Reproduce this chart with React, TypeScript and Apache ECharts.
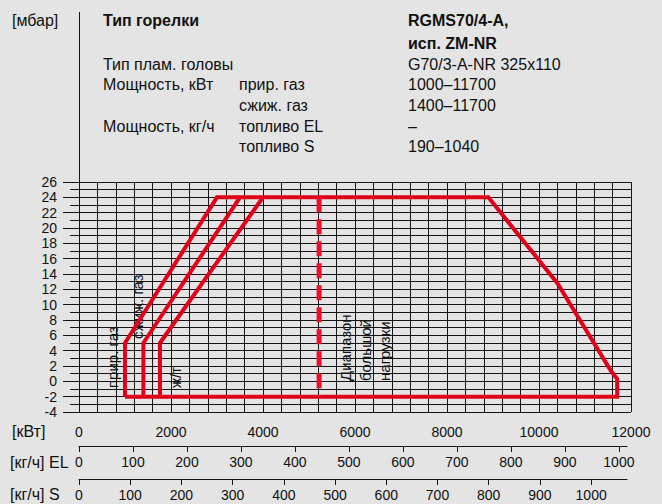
import React, { useEffect, useRef } from "react";
import * as echarts from "echarts";

// ---- data ----
const outerX = [1000, 1000, 3000, 8900, 10400, 11560, 11700, 11700, 1000];
const outerY = [-2, 5, 24, 24, 12.8, 1.4, 0.3, -2, -2];
const lpgX = [1400, 1400, 3500];
const lpgY = [-2, 5, 24];
const oilX = [1760, 1760, 4000];
const oilY = [-2, 5, 24];
const dashX = [5220, 5220];
const dashY = [24, -2];
const elTicks = [0, 100, 200, 300, 400, 500, 600, 700, 800, 900, 1000];
const sTicks = [0, 100, 200, 300, 400, 500, 600, 700, 800, 900, 1000];

const headerLeft = [
  { t: "Тип горелки", bold: true },
  { t: "", bold: false },
  { t: "Тип плам. головы", bold: false },
  { t: "Мощность, кВт", bold: false },
  { t: "", bold: false },
  { t: "Мощность, кг/ч", bold: false },
  { t: "", bold: false },
];
const headerMid = ["", "", "", "прир. газ", "сжиж. газ", "топливо EL", "топливо S"];
const headerRight = [
  { t: "RGMS70/4-A,", bold: true },
  { t: "исп. ZM-NR", bold: true },
  { t: "G70/3-A-NR 325x110", bold: false },
  { t: "1000–11700", bold: false },
  { t: "1400–11700", bold: false },
  { t: "–", bold: false },
  { t: "190–1040", bold: false },
];
const rowY = [20, 43, 64, 84, 105, 126, 146];

const FONT = "'Liberation Sans', Arial, sans-serif";
const RED = "#e0001b";
const GRID = "#151515";

const zip = (xs: number[], ys: number[]) => xs.map((x, i) => [x, ys[i]]);

export default function App() {
  const ref = useRef<HTMLDivElement>(null);
  useEffect(() => {
    if (!ref.current) return;
    const chart = echarts.init(ref.current, null, { renderer: "svg" });

    const graphics: any[] = [];
    const txt = (text: string, x: number, y: number, size: number, bold = false, extra: any = {}) =>
      graphics.push({
        type: "text",
        x,
        y,
        ...extra,
        style: {
          text,
          font: `${bold ? "bold " : ""}${size}px ${FONT}`,
          fill: "#111",
          align: "left",
          verticalAlign: "middle",
        },
      });
    txt("[мбар]", 12, 20, 16);
    rowY.forEach((y, i) => {
      if (headerLeft[i].t) txt(headerLeft[i].t, 103, y, 16, headerLeft[i].bold);
      if (headerMid[i]) txt(headerMid[i], 239, y, 16);
      if (headerRight[i].t) txt(headerRight[i].t, 408, y, 16, headerRight[i].bold);
    });
    graphics.push({
      type: "line",
      shape: { x1: 79.5, y1: 12, x2: 79.5, y2: 182 },
      style: { stroke: GRID, lineWidth: 1 },
    });
    txt("[кВт]", 12, 431, 16);
    txt("[кг/ч] EL", 10, 462, 16);
    txt("[кг/ч] S", 10, 494, 16);
    const rot = { rotation: Math.PI / 2 };
    txt("прир. газ", 112, 388, 15, false, rot);
    txt("сжиж. газ", 137, 339, 15, false, rot);
    txt("ж/т", 175, 388, 15, false, rot);
    txt("Диапазон", 345, 381, 15, false, rot);
    txt("большой", 365, 381, 15, false, rot);
    txt("нагрузки", 384, 381, 15, false, rot);

    const lbl = { color: "#111", fontSize: 14, fontFamily: FONT };

    chart.setOption({
      animation: false,
      backgroundColor: "#e3e4e3",
      grid: [
        { left: 79, top: 182, width: 552, height: 230 },
        { left: 79, top: 446, width: 548, height: 1 },
        { left: 79, top: 479, width: 548, height: 1 },
      ],
      xAxis: [
        {
          type: "value",
          gridIndex: 0,
          min: 0,
          max: 12000,
          interval: 2000,
          axisLine: { show: true, lineStyle: { color: GRID, width: 1 } },
          axisTick: { show: true, length: 7, lineStyle: { color: GRID } },
          minorTick: { show: true, splitNumber: 5, length: 3, lineStyle: { color: GRID } },
          axisLabel: { ...lbl, margin: 13, formatter: (v: number) => String(v) },
          splitLine: { show: true, lineStyle: { color: GRID, width: 1 } },
          minorSplitLine: { show: true, lineStyle: { color: GRID, width: 1 } },
        },
        {
          type: "value",
          gridIndex: 1,
          min: 0,
          max: 1015,
          position: "top",
          axisLine: { show: true, onZero: false, lineStyle: { color: GRID } },
          axisTick: { show: true, inside: true, length: 6, customValues: elTicks, lineStyle: { color: GRID } },
          axisLabel: { ...lbl, margin: 9, inside: true, customValues: elTicks, formatter: (v: number) => String(v) },
          splitLine: { show: false },
        },
        {
          type: "value",
          gridIndex: 2,
          min: 0,
          max: 1070,
          position: "top",
          axisLine: { show: true, onZero: false, lineStyle: { color: GRID } },
          axisTick: { show: true, inside: true, length: 6, customValues: sTicks, lineStyle: { color: GRID } },
          axisLabel: { ...lbl, margin: 9, inside: true, customValues: sTicks, formatter: (v: number) => String(v) },
          splitLine: { show: false },
        },
      ],
      yAxis: [
        {
          type: "value",
          gridIndex: 0,
          min: -4,
          max: 26,
          interval: 2,
          axisLine: { show: true, lineStyle: { color: GRID } },
          axisTick: { show: true, length: 16, lineStyle: { color: GRID } },
          minorTick: { show: true, splitNumber: 2, length: 9, lineStyle: { color: GRID } },
          axisLabel: { ...lbl, margin: 22 },
          splitLine: { show: true, lineStyle: { color: GRID, width: 1 } },
          minorSplitLine: { show: true, lineStyle: { color: GRID, width: 1 } },
        },
        { type: "value", gridIndex: 1, show: false },
        { type: "value", gridIndex: 2, show: false },
      ],
      series: [
        {
          type: "line",
          data: zip(outerX, outerY),
          symbol: "none",
          lineStyle: { color: RED, width: 4, join: "miter" },
          z: 5,
        },
        {
          type: "line",
          data: zip(lpgX, lpgY),
          symbol: "none",
          lineStyle: { color: RED, width: 4 },
          z: 5,
        },
        {
          type: "line",
          data: zip(oilX, oilY),
          symbol: "none",
          lineStyle: { color: RED, width: 4 },
          z: 5,
        },
        {
          type: "line",
          data: zip(dashX, dashY),
          symbol: "none",
          lineStyle: { color: "#e8112d", width: 5, type: [15, 7] },
          z: 5,
        },
      ],
      graphic: graphics,
    });
    return () => chart.dispose();
  }, []);
  return (
    <div
      ref={ref}
      style={{ position: "fixed", left: 0, top: 0, width: 662, height: 504, background: "#e3e4e3" }}
    />
  );
}
